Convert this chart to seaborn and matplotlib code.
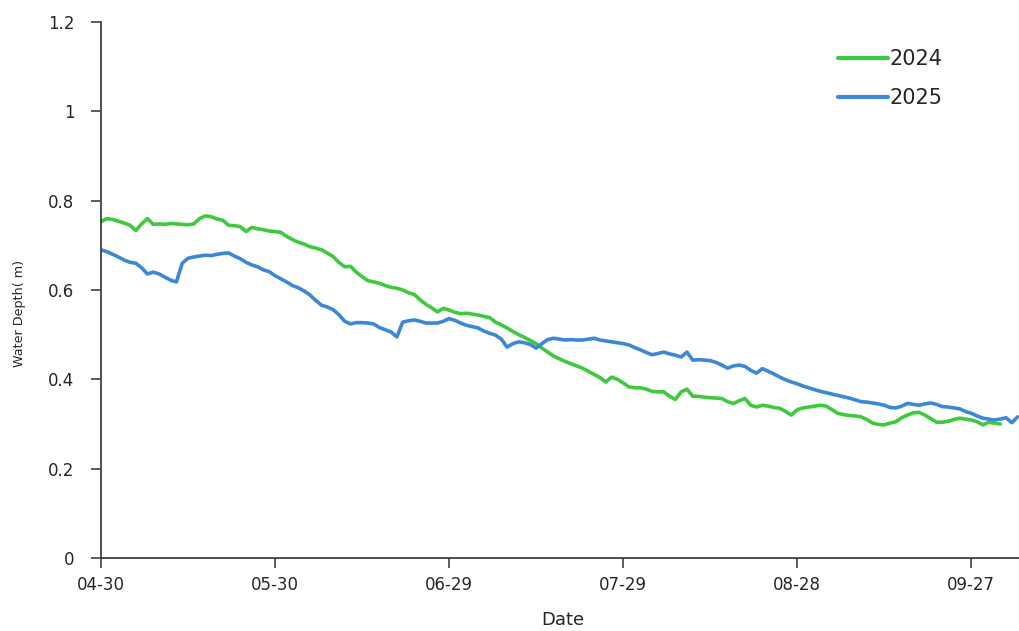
import numpy as np
import pandas as pd
import matplotlib
matplotlib.use("Agg")
import matplotlib.pyplot as plt
import matplotlib.dates as mdates
from matplotlib.ticker import FuncFormatter
import seaborn as sns

start_date = "2025-04-30"
xtick_labels = ["04-30", "05-30", "06-29", "07-29", "08-28", "09-27"]
ytick_values = [0, 0.2, 0.4, 0.6, 0.8, 1.0, 1.2]

depth_2024 = [
    0.753, 0.760, 0.758, 0.754, 0.750, 0.745, 0.733, 0.748, 0.760, 0.747,
    0.748, 0.747, 0.749, 0.748, 0.747, 0.746, 0.748, 0.760, 0.766, 0.764,
    0.759, 0.756, 0.745, 0.744, 0.742, 0.731, 0.740, 0.737, 0.735, 0.732,
    0.731, 0.729, 0.720, 0.713, 0.707, 0.703, 0.697, 0.694, 0.690, 0.683,
    0.675, 0.662, 0.652, 0.653, 0.640, 0.630, 0.621, 0.618, 0.615, 0.610,
    0.606, 0.604, 0.600, 0.594, 0.590, 0.578, 0.568, 0.560, 0.551, 0.559,
    0.555, 0.550, 0.547, 0.548, 0.546, 0.544, 0.541, 0.538, 0.528, 0.522,
    0.515, 0.507, 0.500, 0.494, 0.487, 0.480, 0.470, 0.461, 0.452, 0.446,
    0.440, 0.435, 0.430, 0.425, 0.418, 0.411, 0.404, 0.394, 0.405, 0.400,
    0.392, 0.383, 0.381, 0.381, 0.378, 0.373, 0.372, 0.372, 0.362, 0.355,
    0.372, 0.378, 0.362, 0.362, 0.360, 0.359, 0.358, 0.357, 0.350, 0.346,
    0.352, 0.357, 0.342, 0.338, 0.342, 0.340, 0.337, 0.335, 0.328, 0.320,
    0.332, 0.336, 0.338, 0.340, 0.342, 0.340, 0.332, 0.324, 0.321, 0.319,
    0.318, 0.316, 0.310, 0.302, 0.299, 0.298, 0.302, 0.305, 0.314, 0.320,
    0.325, 0.326, 0.320, 0.312, 0.304, 0.304, 0.306, 0.310, 0.313, 0.311,
    0.309, 0.305, 0.298, 0.304, 0.302, 0.300,
]

depth_2025 = [
    0.690, 0.686, 0.680, 0.674, 0.667, 0.662, 0.660, 0.650, 0.636, 0.640,
    0.636, 0.629, 0.622, 0.618, 0.660, 0.671, 0.674, 0.676, 0.678, 0.677,
    0.680, 0.682, 0.683, 0.676, 0.670, 0.662, 0.656, 0.652, 0.645, 0.641,
    0.632, 0.625, 0.618, 0.610, 0.605, 0.598, 0.589, 0.577, 0.566, 0.562,
    0.556, 0.545, 0.530, 0.524, 0.527, 0.527, 0.526, 0.524, 0.516, 0.511,
    0.506, 0.495, 0.528, 0.531, 0.533, 0.530, 0.526, 0.526, 0.526, 0.530,
    0.536, 0.532, 0.526, 0.521, 0.518, 0.515, 0.508, 0.503, 0.499, 0.490,
    0.472, 0.480, 0.484, 0.482, 0.478, 0.470, 0.480, 0.489, 0.492, 0.490,
    0.488, 0.489, 0.488, 0.488, 0.490, 0.492, 0.488, 0.486, 0.484, 0.482,
    0.480, 0.477, 0.471, 0.466, 0.460, 0.455, 0.458, 0.461, 0.457, 0.454,
    0.450, 0.461, 0.443, 0.444, 0.443, 0.442, 0.438, 0.432, 0.425, 0.430,
    0.432, 0.429, 0.420, 0.414, 0.424, 0.418, 0.412, 0.405, 0.399, 0.394,
    0.390, 0.385, 0.381, 0.377, 0.373, 0.370, 0.367, 0.364, 0.361, 0.358,
    0.354, 0.350, 0.349, 0.347, 0.345, 0.342, 0.337, 0.336, 0.340, 0.346,
    0.344, 0.342, 0.345, 0.347, 0.344, 0.339, 0.338, 0.336, 0.334, 0.328,
    0.324, 0.318, 0.313, 0.311, 0.309, 0.311, 0.314, 0.303, 0.316,
]

series_names = ["2024", "2025"]
series_colors = ["#3ec93e", "#3d88d6"]

t0 = pd.Timestamp(start_date)
frames = []
for name, vals in zip(series_names, [depth_2024, depth_2025]):
    frames.append(pd.DataFrame({
        "Date": t0 + pd.to_timedelta(np.arange(len(vals)), unit="D"),
        "depth": vals,
        "year": name,
    }))
df = pd.concat(frames, ignore_index=True)

sns.set_style("white")
plt.rcParams["font.family"] = ["DejaVu Sans"]

fig = plt.figure(figsize=(10.2, 6.31), dpi=100)
ax = fig.add_axes([0.099, 0.1157, 0.901, 0.8494])

sns.lineplot(data=df, x="Date", y="depth", hue="year",
             palette=dict(zip(series_names, series_colors)),
             linewidth=2.6, ax=ax, legend=True)

tick_dates = [pd.Timestamp(f"2025-{lab}") for lab in xtick_labels]
ax.set_xticks(tick_dates)
ax.xaxis.set_major_formatter(mdates.DateFormatter("%m-%d"))
ax.set_xlim(t0, t0 + pd.Timedelta(days=158.4))
ax.set_ylim(0, 1.2)
ax.set_yticks(ytick_values)
ax.yaxis.set_major_formatter(FuncFormatter(lambda v, p: f"{v:g}"))

for s in ["top", "right"]:
    ax.spines[s].set_visible(False)
for s in ["left", "bottom"]:
    ax.spines[s].set_color("#404040")
    ax.spines[s].set_linewidth(1.3)

ax.tick_params(axis="both", which="major", direction="out", length=7,
               width=1.2, color="#404040", labelsize=12, labelcolor="#262626",
               bottom=True, left=True)
ax.tick_params(axis="x", pad=6)
ax.tick_params(axis="y", pad=12)

ax.set_xlabel("Date", fontsize=13, color="#262626")
ax.xaxis.set_label_coords(0.503, -0.099)
ax.set_ylabel("Water Depth( m)", fontsize=9.2, color="#262626")
ax.yaxis.set_label_coords(-0.082, 0.457)

leg = ax.legend(loc="upper left", bbox_to_anchor=(0.802, 0.949), frameon=False,
                fontsize=15, handlelength=2.4, handletextpad=0.05,
                labelspacing=0.9, borderpad=0, borderaxespad=0)
for line in leg.get_lines():
    line.set_linewidth(3)

fig.savefig("out.png", dpi=100)
